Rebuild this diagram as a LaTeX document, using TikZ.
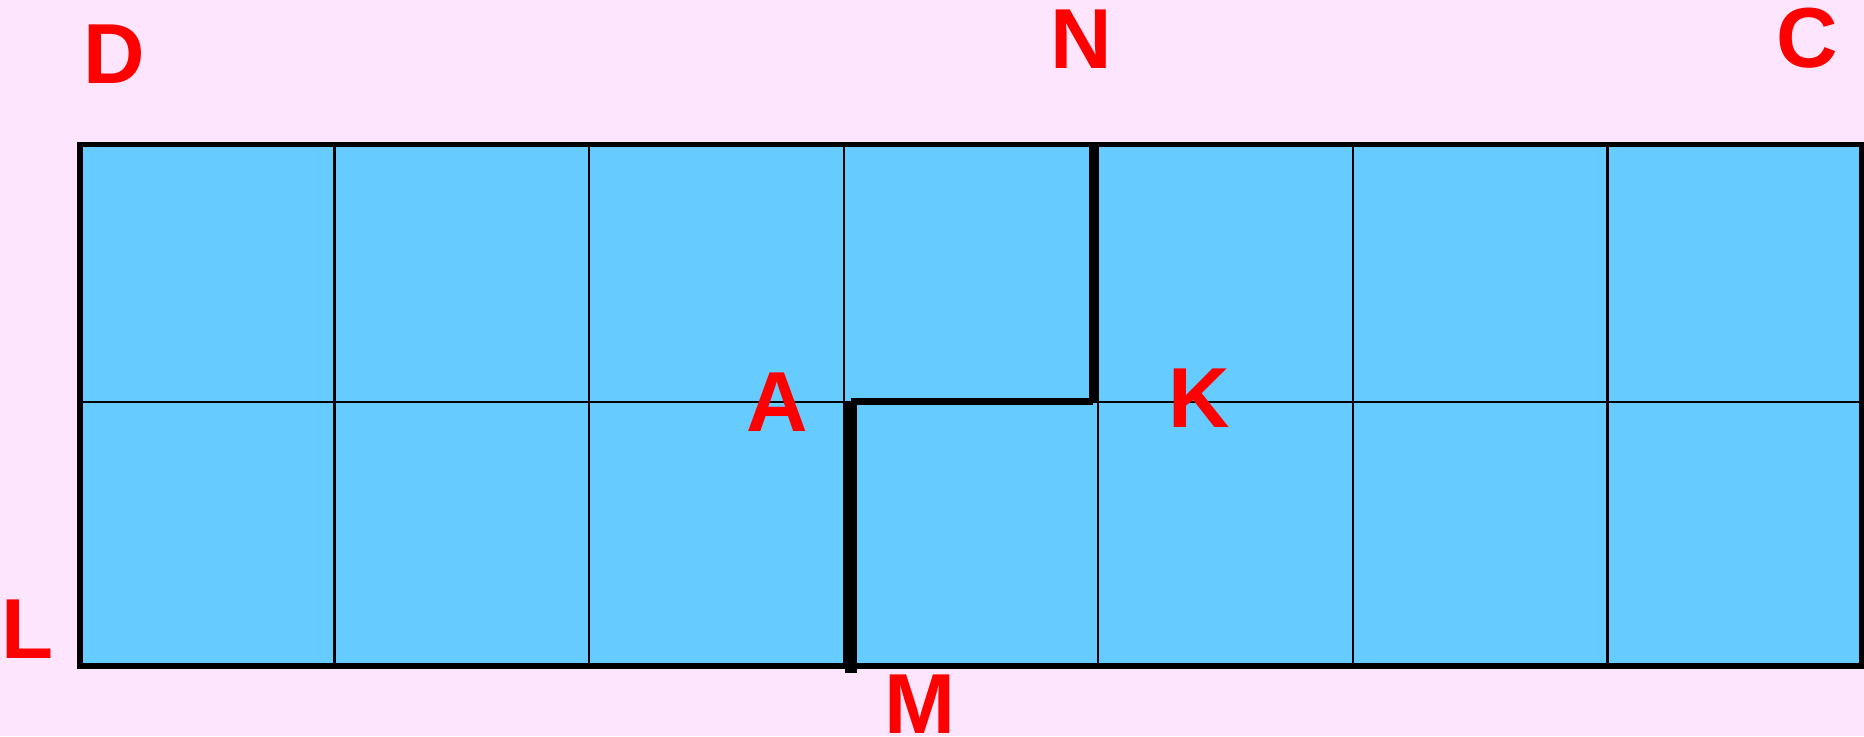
\documentclass[tikz,border=0pt]{standalone}
\usepackage{fontspec}
\setmainfont{Liberation Sans}
\definecolor{bgpink}{RGB}{253,230,253}
\definecolor{cellblue}{RGB}{102,204,255}
\definecolor{labred}{RGB}{255,0,0}
\begin{document}
\begin{tikzpicture}[x=0.5pt,y=-0.5pt,
  lbl/.style={text=labred,font=\fontsize{42.6}{42.6}\selectfont\bfseries,inner sep=0pt,anchor=base},
  gridline/.style={line width=1.2pt,black},
  border/.style={line width=2.8pt,black,line cap=rect},
  pathM/.style={line width=6pt,black},
  pathH/.style={line width=3.7pt,black},
  pathN/.style={line width=3.9pt,black}]
\fill[bgpink] (0,0) rectangle (1864,736);
\useasboundingbox (0,0) rectangle (1864,736);
% grid
\coordinate (TL) at (80,144.5);
\coordinate (BR) at (1862,666);
\fill[cellblue] (TL) rectangle (BR);
\foreach \i in {1,...,6}{
  \draw[gridline] ({80+\i*254.57},144.5) -- ({80+\i*254.57},666);
}
\draw[gridline] (80,402) -- (1862,402);
\draw[border] (TL) rectangle (BR);
% thick path
\coordinate (Mb) at (851,673);
\coordinate (Mt) at (851,402);
\coordinate (Hl) at (851,401.3);
\coordinate (Hr) at (1093,401.3);
\coordinate (Nt) at (1093,142);
\draw[pathM] (Mb) -- (Mt);
\draw[pathH] (Hl) -- (Hr);
\draw[pathN] (Hr) -- (Nt);
% labels
\node[lbl] (D) at (114,83) {D};
\node[lbl] (N) at (1081.5,68) {N};
\node[lbl] (C) at (1807,67) {C};
\node[lbl] (L) at (28,658) {L};
\node[lbl] (M) at (920,733) {M};
\node[lbl] (A) at (777,431) {A};
\node[lbl] (K) at (1199,427) {K};
\end{tikzpicture}
\end{document}
